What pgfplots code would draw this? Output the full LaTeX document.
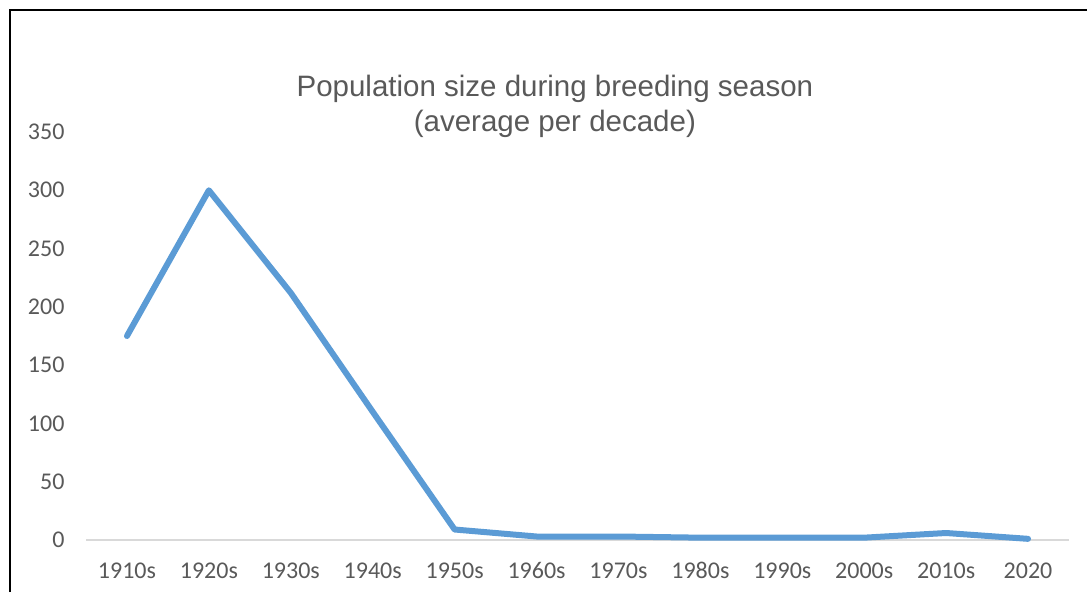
\documentclass[border=0pt]{standalone}
\usepackage{pgfplots}
\pgfplotsset{compat=1.18}
\usepackage{fontspec}
\setmainfont{Carlito}
\newfontfamily\arialfont{Liberation Sans}
\definecolor{exblue}{HTML}{5B9BD5}
\definecolor{txtgray}{HTML}{595959}
\definecolor{gridgray}{HTML}{D9D9D9}
\begin{document}
\begin{tikzpicture}[x=1pt,y=1pt]
\useasboundingbox (0,0) rectangle (1087,592);
\draw[line width=2pt] (10,0) -- (10,582) -- (1088,582);
\begin{axis}[
  at={(86pt,52pt)}, anchor=south west,
  scale only axis, width=983pt, height=408pt,
  xmin=-0.5, xmax=11.5, ymin=0, ymax=350,
  clip=false,
  axis line style={draw=none},
  tick style={draw=none},
  xtick={0,...,11},
  xticklabels={1910s,1920s,1930s,1940s,1950s,1960s,1970s,1980s,1990s,2000s,2010s,2020},
  ytick={0,50,...,350},
  /pgf/number format/assume math mode=true,
  ticklabel style={font=\fontsize{24}{28}\selectfont, text=txtgray},
  xticklabel style={text height=15pt, text depth=0pt},
  yticklabel shift=18pt,
  xticklabel shift=20pt,
  title={Population size during breeding season\\(average per decade)},
  title style={at={(rel axis cs:0.477,1.047)}, anchor=center, align=center,
    font=\arialfont\fontsize{29.5}{35}\selectfont, text=txtgray},
]
\addplot[gridgray, line width=1.5pt, forget plot] coordinates {(-0.5,0) (11.5,0)};
\addplot[exblue, line width=6pt, line cap=round, line join=round, mark=none] coordinates {
(0,175) (1,300) (2,212) (3,110) (4,9) (5,3) (6,3) (7,2) (8,2) (9,2) (10,6) (11,1)
};
\end{axis}
\end{tikzpicture}
\end{document}
